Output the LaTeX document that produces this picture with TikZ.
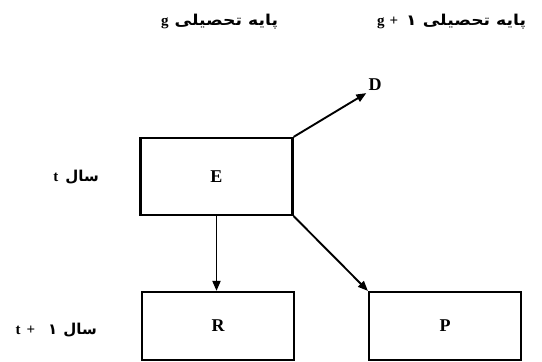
\documentclass[tikz,border=0pt]{standalone}
\usepackage{fontspec}
\setmainfont{Liberation Serif}
\newfontfamily\fa[Script=Arabic]{DejaVu Sans}
\newfontfamily\fah[Script=Arabic,FakeStretch=1.15]{DejaVu Sans}
\TeXXeTstate=1
\usetikzlibrary{arrows.meta}
\tikzset{
  box/.style={draw, line width=2.2pt, minimum width=152pt, minimum height=#1, inner sep=0pt, font=\fontsize{18}{20}\selectfont\bfseries},
  arr/.style={line width=1.9pt, -{Triangle[length=10pt,width=8pt]}},
  lab/.style={inner sep=0pt, font=\fontsize{15}{17}\selectfont\bfseries},
}
\begin{document}
\begin{tikzpicture}[x=1pt,y=-1pt]
\useasboundingbox (0,0) rectangle (542,362);
% boxes
\node[box=77pt] (E) at (216.5,176.5) {E};
\node[box=68pt] (R) at (218,326) {R};
\node[box=68pt] (P) at (445,326) {P};
\node[inner sep=2pt, font=\fontsize{18}{20}\selectfont\bfseries] (D) at (375,85) {D};
% connectors
\draw[arr] (E.north east) -- (D.south west);
\draw[arr] (E.south) -- (E.south |- R.north);
\draw[arr] (E.south east) -- (P.north west);
% headers
\node[lab, anchor=west] (h1) at (161,22) {g\hspace{6pt}{\fah\bfseries\beginR پایه تحصیلی\endR}};
\node[lab, anchor=west] (h2) at (377,22) {g\hspace{5pt}+\hspace{8pt}{\fah\bfseries ۱\hspace{6pt}\beginR پایه تحصیلی\endR}};
% year labels
\node[lab, anchor=east] (y1) at (99,177) {t\hspace{7pt}{\fa\bfseries\beginR سال\endR}};
\node[lab, anchor=east] (y2) at (97,330) {t\hspace{6pt}+\hspace{13pt}{\fa\bfseries ۱\hspace{6pt}\beginR سال\endR}};
\end{tikzpicture}
\end{document}
